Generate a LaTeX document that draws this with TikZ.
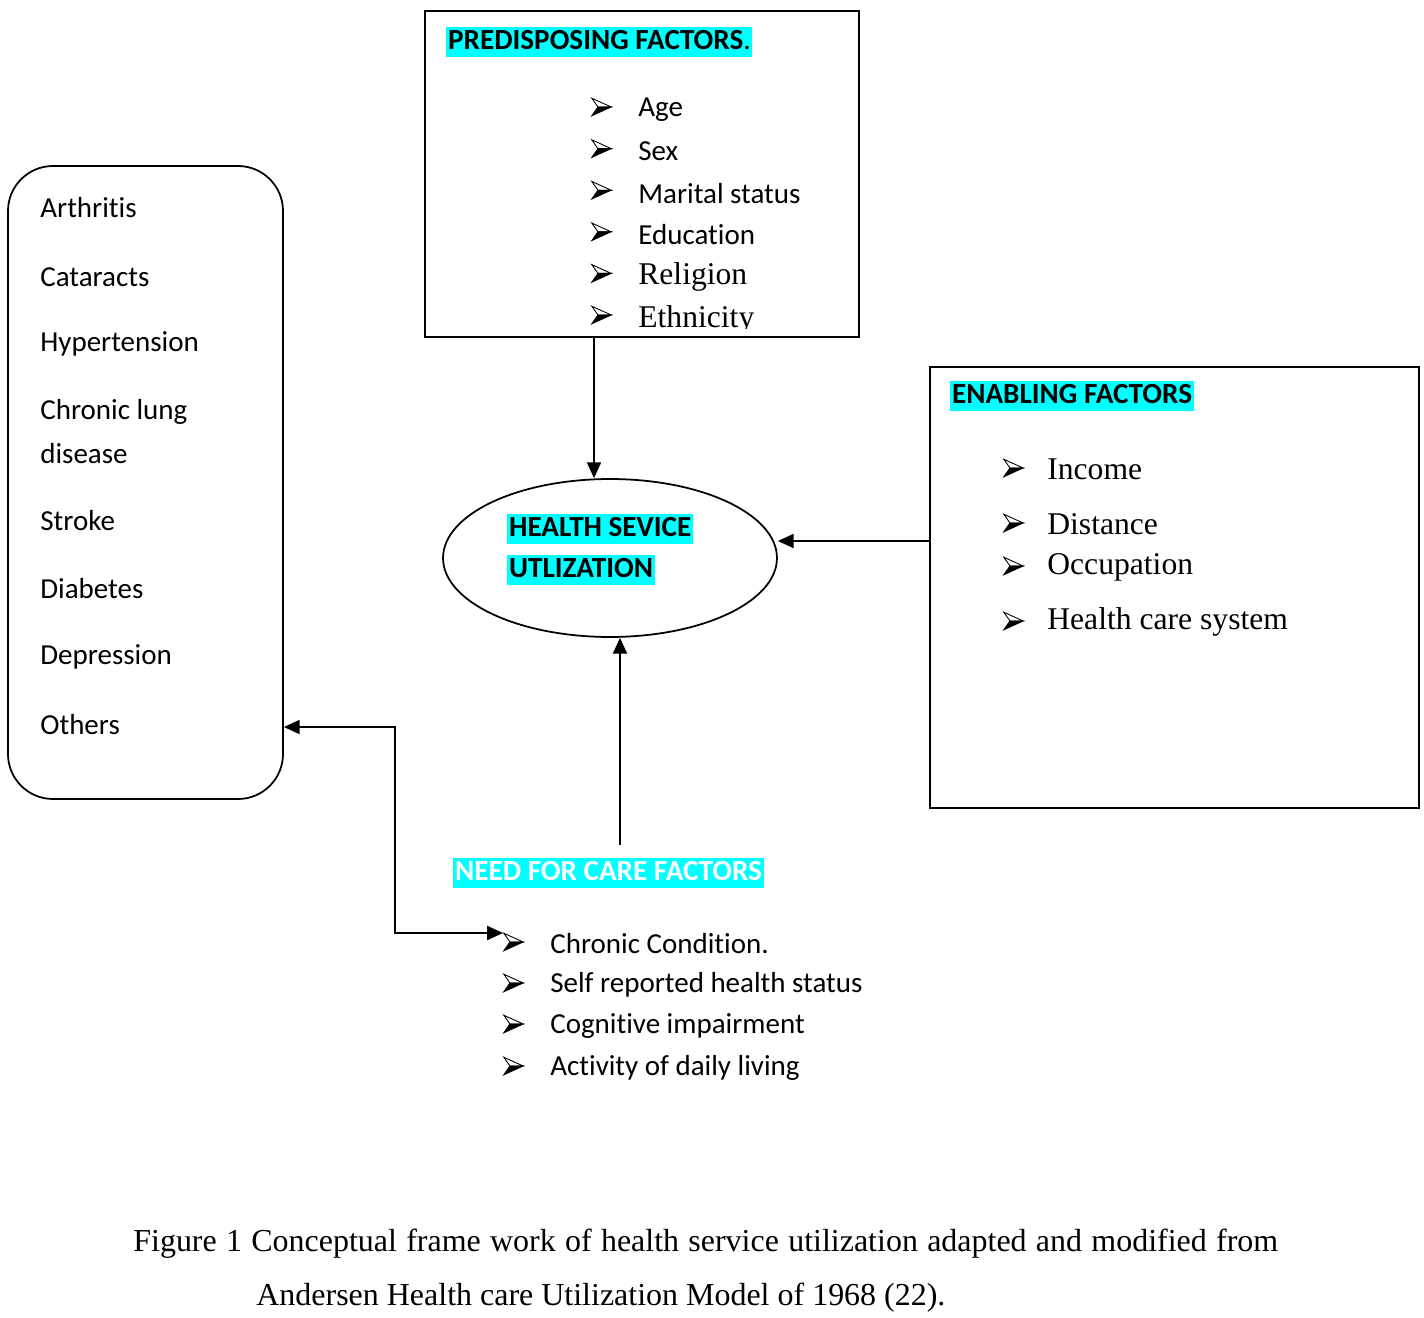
\documentclass[tikz,border=0pt]{standalone}
\usepackage{fontspec}
\setmainfont{Liberation Serif}
\newfontfamily\calfont[Ligatures=NoCommon]{Carlito}
\usetikzlibrary{shapes.geometric,fit,arrows.meta}

\definecolor{hlcyan}{RGB}{0,255,255}

% arrowhead bullet
\newcommand{\arrowbul}{\tikz[baseline=-0.6ex, x=1pt, y=1pt, line width=0.5pt, line join=miter]{
	\draw (0,5) -- (11,0) -- (3.5,0) -- cycle;
	\filldraw (0,-5) -- (11,0) -- (3.5,0) -- cycle;}}

\tikzset{
  frame/.style={draw, line width=1pt, inner sep=0pt},
  hilite/.style={fill=hlcyan, anchor=west, inner xsep=1pt, inner ysep=0pt,
    text height=12.5pt, text depth=4.5pt,
    font=\calfont\bfseries\fontsize{16.6}{18}\selectfont},
  sansitem/.style={anchor=west, inner sep=0pt, font=\calfont\fontsize{16.5}{20}\selectfont},
  serifitem/.style={anchor=west, inner sep=0pt, font=\fontsize{18}{21}\selectfont},
  bul/.style={anchor=west, inner sep=0pt},
  link/.style={line width=1pt, -{Triangle[length=9pt,width=8pt]}},
}

\begin{document}
\begin{tikzpicture}[x=0.02cm, y=-0.02cm]
	\useasboundingbox (0,0) rectangle (1424,1318);
	
	% boxes
	\node[frame, fit={(425,11) (859,337)}] (pre) {};
	\node[frame, fit={(930,367) (1419,808)}] (enb) {};
	\node[frame, rounded corners=0.9cm, fit={(8,166) (283,799)}] (cond) {};
	\node[draw, line width=1pt, ellipse, inner sep=0pt, minimum width=6.68cm, minimum height=3.16cm] (hsu) at (610,558) {};
	
	% headings
	\node[hilite] (prehead) at (446,42) {PREDISPOSING FACTORS\mdseries.};
	\node[hilite] (enbhead) at (950,396) {ENABLING FACTORS};
	\node[hilite] (hsu1) at (507,529) {HEALTH SEVICE};
	\node[hilite] (hsu2) at (507,570) {UTLIZATION};
	\node[hilite, text=white] (need) at (453,873) {NEED FOR CARE FACTORS};
	
	% predisposing factors
	\begin{scope}
		\clip (425,11) rectangle (859,328);
		\foreach \i in {1,...,6}
			\node[bul] (pb\i) at (591, 107+41.6*\i-41.6) {\arrowbul};
		\foreach \txt [count=\i] in {Age, Sex, Marital status, Education}
			\node[sansitem] (pt\i) at (638, 110+41.6*\i-41.6) {\txt};
		\node[serifitem] (pt5) at (638,277) {Religion};
		\node[serifitem] (pt6) at (638,320) {Ethnicity};
	\end{scope}
	
	% enabling factors
	\foreach \txt/\yy [count=\i] in {Income/468, Distance/523, Occupation/566, Health care system/621} {
		\node[bul] (eb\i) at (1003,\yy) {\arrowbul};
		\node[serifitem] (et\i) at (1047,\yy+1) {\txt};
	}
	
	% need for care factors
	\foreach \txt/\yy [count=\i] in {Chronic Condition./942, Self reported health status/983, Cognitive impairment/1024, Activity of daily living/1066} {
		\node[bul] (nb\i) at (503,\yy) {\arrowbul};
		\node[sansitem] (nt\i) at (550,\yy+2) {\txt};
	}
	
	% chronic conditions
	\foreach \txt/\yy [count=\i] in {Arthritis/208, Cataracts/277, Hypertension/344, Chronic lung/412, disease/454, Stroke/521, Diabetes/589, Depression/657, Others/725}
		\node[sansitem] (ct\i) at (40,\yy) {\txt};
	
	% connectors
	\coordinate (p1) at (594,0);
	\coordinate (e1) at (0,541);
	\coordinate (n1) at (620,0);
	\coordinate (c1) at (395,727);
	\coordinate (c2) at (0,933);
	\draw[link] (pre.south -| p1) -- (hsu.north -| p1);
	\draw[link] (enb.west |- e1) -- (hsu.east |- e1);
	\draw[link] ([yshift=7pt]need.north -| n1) -- (hsu.south -| n1);
	\draw[link, {Triangle[length=9pt,width=8pt]}-{Triangle[length=9pt,width=8pt]}] (cond.east |- c1) -- (c1) |- (nb1.west |- c2);
	
	% caption
	\node[anchor=west, inner sep=0pt, font=\fontsize{18.2}{21}\selectfont] (cap1) at (133,1244) {\hbox to 651.6pt{Figure 1 Conceptual frame work of health service utilization adapted and modified from}};
	\node[anchor=west, inner sep=0pt, font=\fontsize{18.2}{21}\selectfont] (cap2) at (256,1298) {Andersen Health care Utilization Model of 1968 (22).};
\end{tikzpicture}
\end{document}
